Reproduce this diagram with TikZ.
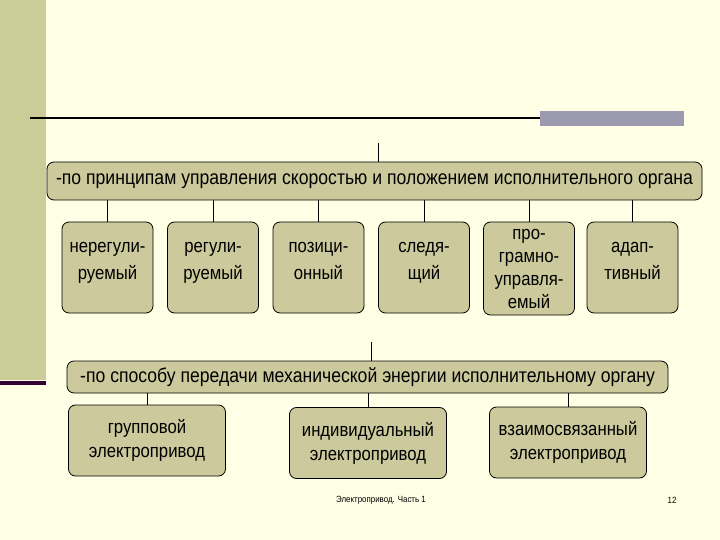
\documentclass[tikz,border=0pt]{standalone}
\usepackage{fontspec}
\setmainfont{Liberation Sans}
\newfontfamily\narrow[FakeStretch=0.88]{Liberation Sans}
\definecolor{bg}{HTML}{FFFFE6}
\definecolor{side}{HTML}{CCCC99}
\definecolor{boxf}{HTML}{CCCA9C}
\definecolor{bar}{HTML}{9C9AAE}
\definecolor{purp}{HTML}{330033}
\begin{document}
\begin{tikzpicture}[x=1pt,y=-1pt,
  box/.style={draw=black,fill=boxf,rounded corners=7pt,line width=0.8pt,inner sep=0pt},
  conn/.style={line width=1pt}]
\fill[bg] (0,0) rectangle (720,540);
\useasboundingbox (0,0) rectangle (720,540);
\fill[side] (0,0) rectangle (46,380);
\fill[purp] (0,381) rectangle (46,385);
\draw[line width=2pt] (30,118) -- (540,118);
\fill[bar] (540,111) rectangle (684,126);
% top category
\node[box,minimum width=655pt,minimum height=38pt,font=\narrow\fontsize{20}{22}\selectfont] (c1) at (374.5,181) {-по принципам управления скоростью и положением исполнительного органа};
\coordinate (t1) at (378,143);
\draw[conn] (t1) -- (t1 |- c1.north);
\foreach \n/\x/\t in {a/107.5/{нерегули-\\руемый},b/213/{регули-\\руемый},c/318.5/{позици-\\онный},d/424/{следя-\\щий},f/632.5/{адап-\\тивный}}{
  \node[box,minimum width=91pt,minimum height=91pt,align=center,font=\narrow\fontsize{19}{27}\selectfont,text depth=14pt] (\n) at (\x,267.5) {\t};
  \draw[conn] (\n.north |- c1.south) -- (\n.north);
}
\node[box,minimum width=91pt,minimum height=93pt,align=center,font=\narrow\fontsize{19}{23}\selectfont] (e) at (529,268.5) {про-\\грамно-\\управля-\\емый};
\draw[conn] (e.north |- c1.south) -- (e.north);
% second category
\node[box,minimum width=601pt,minimum height=32pt,font=\narrow\fontsize{20}{22}\selectfont] (c2) at (367.5,377) {-по способу передачи механической энергии исполнительному органу};
\coordinate (t2) at (371,342);
\draw[conn] (t2) -- (t2 |- c2.north);
\foreach \n/\x/\y/\t in {g/147/440.5/{групповой\\электропривод},h/368/443/{индивидуальный\\электропривод},i/568/442.5/{взаимосвязанный\\электропривод}}{
  \node[box,minimum width=157pt,minimum height=71pt,align=center,font=\narrow\fontsize{19}{24}\selectfont] (\n) at (\x,\y) {\t};
  \draw[conn] (\n.north |- c2.south) -- (\n.north);
}
\node[font=\narrow\fontsize{9}{10}\selectfont] (ft) at (381,500) {Электропривод. Часть 1};
\node[font=\narrow\fontsize{9}{10}\selectfont] (pg) at (672,500) {12};
\end{tikzpicture}
\end{document}
